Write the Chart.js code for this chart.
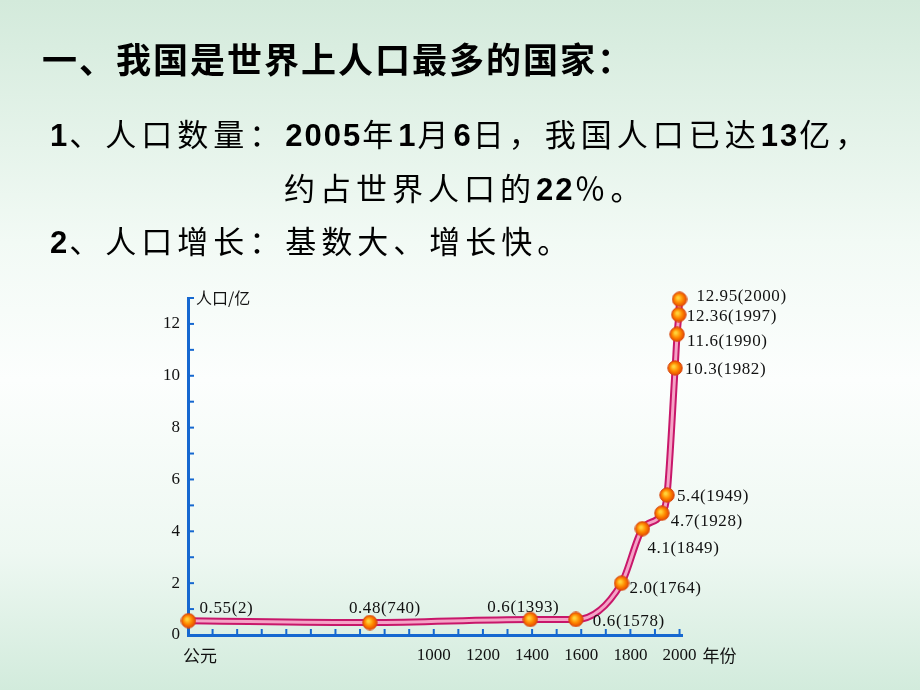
<!DOCTYPE html>
<html>
<head>
<meta charset="utf-8">
<script src="https://cdn.jsdelivr.net/npm/chart.js@4.4.1/dist/chart.umd.min.js"></script>
<style>
  body { margin: 0; }
  #page {
    position: relative; width: 920px; height: 690px; overflow: hidden;
    background: linear-gradient(to bottom, #d3eadb 0%, #f2faf5 35%, #fcfefd 55%, #eef8f2 80%, #d2ebdc 100%);
    font-family: "Noto Sans CJK SC", sans-serif; color: #000;
  }
  #myChart { position: absolute; left: 0; top: 0; }
  .txt { position: absolute; line-height: 1; white-space: nowrap; letter-spacing: 5px; font-size: 31px; }
  .num { font-family: "Liberation Sans", Arial, sans-serif; font-weight: bold; letter-spacing: 2px; }
</style>
</head>
<body>
<div id="page">
  <canvas id="myChart" width="920" height="690"></canvas>
  <div class="txt" style="left:42px; top:40px; font-size:35px; font-weight:bold; letter-spacing:2px;">一、我国是世界上人口最多的国家：</div>
  <div class="txt" style="left:50px; top:117px;"><span class="num">1</span>、人口数量：<span class="num">2005</span>年<span class="num">1</span>月<span class="num">6</span>日，我国人口已达<span class="num">13</span>亿，</div>
  <div class="txt" style="left:284px; top:171px;">约占世界人口的<span class="num">22</span>％。</div>
  <div class="txt" style="left:50px; top:224px;"><span class="num">2</span>、人口增长：基数大、增长快。</div>
</div>
<script>
// 中国人口（亿）
const years = [2, 740, 1393, 1578, 1764, 1849, 1928, 1949, 1982, 1990, 1997, 2000];
const population = [0.55, 0.48, 0.6, 0.6, 2.0, 4.1, 4.7, 5.4, 10.3, 11.6, 12.36, 12.95];
const pointLabels = ["0.55(2)", "0.48(740)", "0.6(1393)", "0.6(1578)", "2.0(1764)", "4.1(1849)",
  "4.7(1928)", "5.4(1949)", "10.3(1982)", "11.6(1990)", "12.36(1997)", "12.95(2000)"];
const xTickLabels = [1000, 1200, 1400, 1600, 1800, 2000];
const yTickLabels = [0, 2, 4, 6, 8, 10, 12];

// label placement next to each point: [dx, dy, align]
const labelPos = [
  [11, -12, "left"], [15, -14, "center"], [-7, -12, "center"], [17, 2, "left"],
  [8, 5, "left"], [5, 20, "left"], [9, 8, "left"], [10, 2, "left"],
  [10, 2, "left"], [10, 7, "left"], [8, 2, "left"], [17, -3, "left"]
];

const axisBlue = "#1668d0";

// orange ball marker
const ball = document.createElement("canvas");
ball.width = 16; ball.height = 16;
(() => {
  const c = ball.getContext("2d");
  const g = c.createRadialGradient(6.5, 6.5, 1, 8, 8, 8);
  g.addColorStop(0, "#ffd23a");
  g.addColorStop(0.45, "#ff8a00");
  g.addColorStop(1, "#e03a00");
  c.fillStyle = g;
  c.beginPath(); c.arc(8, 8, 7.2, 0, Math.PI * 2); c.fill();
  c.strokeStyle = "#d84a10"; c.lineWidth = 1; c.stroke();
})();

const points = years.map((y, i) => ({ x: y, y: population[i] }));

const extras = {
  id: "extras",
  beforeDatasetsDraw(chart) {
    const { ctx, scales: { x, y } } = chart;
    ctx.save();
    ctx.strokeStyle = axisBlue;
    ctx.lineWidth = 2;
    // inward ticks
    for (let v = 100; v <= 2000; v += 100) {
      const px = x.getPixelForValue(v);
      ctx.beginPath(); ctx.moveTo(px, y.bottom); ctx.lineTo(px, y.bottom - 6); ctx.stroke();
    }
    for (let v = 1; v <= 13; v++) {
      const py = y.getPixelForValue(v);
      ctx.beginPath(); ctx.moveTo(x.left, py); ctx.lineTo(x.left + 6, py); ctx.stroke();
    }
    ctx.fillStyle = "#111";
    ctx.textBaseline = "middle";
    // year labels
    ctx.font = "17px 'Liberation Serif'";
    ctx.textAlign = "center";
    xTickLabels.forEach((v) => ctx.fillText(String(v), x.getPixelForValue(v), y.bottom + 21));
    ctx.font = "16px 'Noto Sans CJK SC'";
    ctx.textAlign = "left";
    ctx.fillText("人口/亿", x.left + 8, y.top);
    ctx.font = "17px 'Noto Sans CJK SC'";
    ctx.fillText("公元", x.left - 5, y.bottom + 21);
    ctx.fillText("年份", x.getPixelForValue(2000) + 23, y.bottom + 21);
    ctx.restore();
  },
  afterDatasetsDraw(chart) {
    const { ctx } = chart;
    const meta = chart.getDatasetMeta(1);
    ctx.save();
    ctx.fillStyle = "#111";
    ctx.font = "17px 'Liberation Serif'";
    ctx.textBaseline = "middle";
    ctx.letterSpacing = "0.6px";
    meta.data.forEach((p, i) => {
      const [dx, dy, align] = labelPos[i];
      ctx.textAlign = align;
      ctx.fillText(pointLabels[i], p.x + dx, p.y + dy);
    });
    ctx.restore();
  }
};

new Chart(document.getElementById("myChart"), {
  type: "line",
  data: {
    datasets: [
      {
        data: points,
        borderColor: "#c8176a",
        borderWidth: 7,
        pointRadius: 0,
        cubicInterpolationMode: "monotone",
        clip: false,
        order: 2
      },
      {
        data: points,
        borderColor: "#f5a2c6",
        borderWidth: 3,
        pointStyle: ball,
        pointRadius: 8,
        cubicInterpolationMode: "monotone",
        clip: false,
        order: 1
      }
    ]
  },
  options: {
    responsive: false,
    animation: false,
    events: [],
    layout: { padding: { left: 148, right: 238, top: 298, bottom: 15 } },
    plugins: { legend: { display: false }, tooltip: { enabled: false } },
    scales: {
      x: {
        type: "linear",
        min: 0,
        max: 2010,
        afterFit: (s) => { s.height = 40; },
        grid: { display: false, drawTicks: false },
        border: { display: true, color: axisBlue, width: 3 },
        ticks: { display: false, stepSize: 100 }
      },
      y: {
        min: 0,
        max: 13,
        afterFit: (s) => { s.width = 40; },
        grid: { display: false, drawTicks: false },
        border: { display: true, color: axisBlue, width: 3 },
        ticks: {
          stepSize: 1,
          autoSkip: false,
          padding: 8,
          color: "#111",
          font: { family: "Liberation Serif", size: 17 },
          callback: (v) => yTickLabels.includes(v) ? String(v) : ""
        }
      }
    }
  },
  plugins: [extras]
});
</script>
</body>
</html>
